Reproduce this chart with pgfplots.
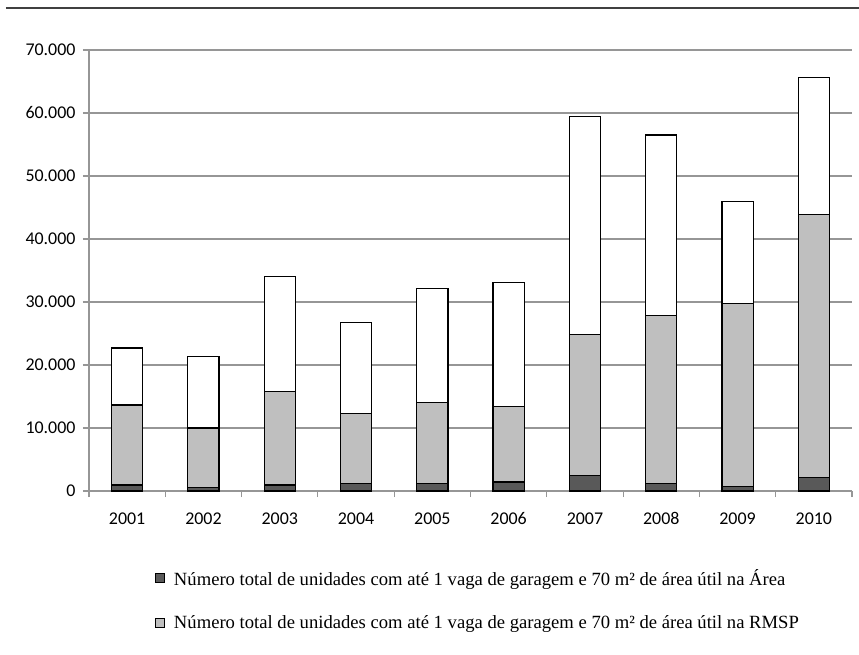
\documentclass[border=0pt]{standalone}
\usepackage{fontspec}
\setmainfont{Carlito}
\newfontfamily\legfont{Liberation Serif}
\usepackage{pgfplots}
\usepackage{pgfplotstable}
\pgfplotsset{compat=1.18}
\definecolor{darkbar}{HTML}{595959}
\definecolor{greybar}{HTML}{BFBFBF}
\definecolor{axgrey}{HTML}{969696}
\pgfplotstableread{
x total rmsp area
0 22700 13650 950
1 21300 10000 540
2 34000 15800 950
3 26700 12300 1220
4 32200 14100 1220
5 33100 13400 1430
6 59400 24900 2500
7 56500 27800 1170
8 45900 29700 750
9 65600 43900 2100
}\data
\begin{document}
\begin{tikzpicture}
\useasboundingbox (-89bp,-164bp) rectangle (770bp,491bp);
\draw[line width=1.6bp, color=black!75] (-83bp,483bp) -- (770bp,483bp);
\begin{axis}[
  at={(0,0)}, anchor=south west,
  scale only axis, width=763bp, height=441bp,
  xmin=-0.5, xmax=9.5, ymin=0, ymax=70000,
  ybar, bar width=0.41,
  axis x line*=bottom, axis y line*=left,
  axis line style={-, draw=axgrey, line width=1.2bp},
  ytick={0,10000,...,70000},
  scaled y ticks=false,
  yticklabel style={/pgf/number format/fixed, /pgf/number format/1000 sep={.}, /pgf/number format/assume math mode=true, xshift=-4bp},
  ymajorgrids, grid style={draw=axgrey, line width=1.2bp},
  xtick={0,...,9},
  xticklabels={2001,2002,2003,2004,2005,2006,2007,2008,2009,2010},
  major x tick style={draw=none},
  minor xtick={-0.5,0.5,...,9.5},
  minor x tick style={draw=axgrey, line width=1.2bp},
  major y tick style={draw=axgrey, line width=1.2bp},
  tick align=outside, major tick length=6bp, minor tick length=6bp,
  xticklabel style={yshift=-12bp},
  ticklabel style={font=\fontsize{18}{20}\selectfont},
  legend style={at={(0.0865,-0.172)}, anchor=north west, draw=none, fill=none,
    font=\legfont\fontsize{18.7}{20}\selectfont, row sep=25bp, inner sep=0pt,
    /tikz/every odd column/.append style={column sep=7bp}},
  legend cell align=left, reverse legend,
]
\addplot[bar shift=0pt, draw=black, line width=1.2bp, fill=white, forget plot] table[x=x,y=total]{\data};
\addplot[bar shift=0pt, draw=black, line width=1.2bp, fill=greybar,
  legend image code/.code={\draw[draw=black, line width=0.8bp, fill=greybar] (0bp,-4.5bp) rectangle (9bp,4.5bp);}] table[x=x,y=rmsp]{\data};
\addplot[bar shift=0pt, draw=black, line width=1.2bp, fill=darkbar,
  legend image code/.code={\draw[draw=black, line width=0.8bp, fill=darkbar] (0bp,-4.5bp) rectangle (9bp,4.5bp);}] table[x=x,y=area]{\data};
\legend{Número total de unidades com até 1 vaga de garagem e 70 m² de área útil na RMSP,
Número total de unidades com até 1 vaga de garagem e 70 m² de área útil na Área}
\end{axis}
\end{tikzpicture}
\end{document}
